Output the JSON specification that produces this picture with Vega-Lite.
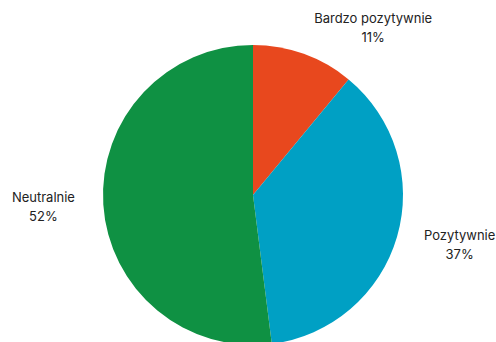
{
  "$schema": "https://vega.github.io/schema/vega-lite/v6.json",
  "width": 506,
  "height": 390,
  "padding": 0,
  "autosize": {"type": "none"},
  "background": "white",
  "config": {"view": {"stroke": null}},
  "data": {
    "values": [
      {"idx": 1, "category": "Bardzo pozytywnie", "value": 11, "label": "Bardzo pozytywnie\n11%"},
      {"idx": 2, "category": "Pozytywnie", "value": 37, "label": "Pozytywnie\n37%"},
      {"idx": 3, "category": "Neutralnie", "value": 52, "label": "Neutralnie\n52%"}
    ]
  },
  "encoding": {
    "theta": {"field": "value", "type": "quantitative", "stack": true},
    "order": {"field": "idx", "type": "quantitative"}
  },
  "layer": [
    {
      "mark": {"type": "arc", "outerRadius": 150},
      "encoding": {
        "color": {
          "field": "category",
          "type": "nominal",
          "legend": null,
          "scale": {
            "domain": ["Bardzo pozytywnie", "Pozytywnie", "Neutralnie"],
            "range": ["#E8481E", "#00A0C4", "#0F9143"]
          }
        }
      }
    },
    {
      "mark": {"type": "text", "radius": 210, "dy": -10, "font": "Inter", "fontSize": 13, "lineBreak": "\n", "lineHeight": 19, "fill": "#222222", "align": "center", "baseline": "middle"},
      "encoding": {
        "text": {"condition": {"test": "datum.idx != 3", "value": ""}, "field": "label"}
      }
    },
    {
      "mark": {"type": "text", "radius": 210, "dx": 5, "dy": -18, "font": "Inter", "fontSize": 13, "lineBreak": "\n", "lineHeight": 19, "fill": "#222222", "align": "center", "baseline": "middle"},
      "encoding": {
        "text": {"condition": {"test": "datum.idx != 2", "value": ""}, "field": "label"}
      }
    },
    {
      "mark": {"type": "text", "radius": 210, "dx": 49, "dy": 22, "font": "Inter", "fontSize": 13, "lineBreak": "\n", "lineHeight": 19, "fill": "#222222", "align": "center", "baseline": "middle"},
      "encoding": {
        "text": {"condition": {"test": "datum.idx != 1", "value": ""}, "field": "label"}
      }
    }
  ]
}
